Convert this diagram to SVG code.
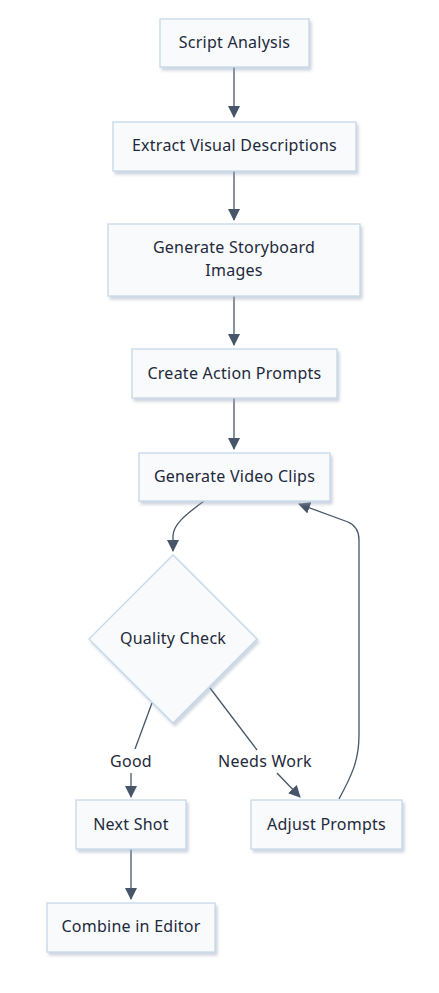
<svg xmlns="http://www.w3.org/2000/svg" width="439" height="993" viewBox="0 0 439 993">
<defs>
<filter id="sh" x="-10%" y="-10%" width="130%" height="140%">
<feDropShadow dx="2" dy="3" stdDeviation="1.5" flood-color="#94a3b8" flood-opacity="0.45"/>
</filter>
<marker id="ah" viewBox="0 0 12 12" refX="11" refY="6" markerWidth="12" markerHeight="12" markerUnits="userSpaceOnUse" orient="auto">
<path d="M0,0 L12,6 L0,12 z" fill="#475569"/>
</marker>
</defs>
<style>
.n{fill:#f8fafc;stroke:#c6d8ea;stroke-width:1.3;filter:url(#sh)}
.t{font-family:"Noto Sans","Open Sans",sans-serif;font-size:16px;letter-spacing:0.25px;fill:#1e293b;text-anchor:middle;dominant-baseline:central}
.e{fill:none;stroke:#475569;stroke-width:1.3}
.lb{font-family:"Noto Sans","Open Sans",sans-serif;font-size:16px;letter-spacing:0.25px;fill:#1e293b;text-anchor:middle;dominant-baseline:central}
</style>
<rect width="439" height="993" fill="#ffffff"/>
<g id="edges">
<path class="e" d="M234,67 L234,117" marker-end="url(#ah)"/>
<path class="e" d="M234,171 L234,220" marker-end="url(#ah)"/>
<path class="e" d="M234,296 L234,345" marker-end="url(#ah)"/>
<path class="e" d="M234,398 L234,449" marker-end="url(#ah)"/>
<path class="e" d="M204,501 C185,515 173,525 173,536 L173,551" marker-end="url(#ah)"/>
<path class="e" d="M152,703 L135,749"/>
<path class="e" d="M131,773 L131,797" marker-end="url(#ah)"/>
<path class="e" d="M210,688 L257,750"/>
<path class="e" d="M277,773 L300,797" marker-end="url(#ah)"/>
<path class="e" d="M131,849 L131,899" marker-end="url(#ah)"/>
<path class="e" d="M339,799 C352,775 359,760 359,735 L359,540 C359,530 355,525 348,522 L299,504" marker-end="url(#ah)"/>
<text class="lb" x="131" y="761">Good</text>
<text class="lb" x="265" y="761">Needs Work</text>
</g>
<g id="script-analysis">
<rect class="n" x="160" y="19" width="149" height="48"/>
<text class="t" x="234.5" y="42">Script Analysis</text>
</g>
<g id="extract-visual">
<rect class="n" x="113" y="122" width="243" height="49"/>
<text class="t" x="234.5" y="145">Extract Visual Descriptions</text>
</g>
<g id="generate-storyboard">
<rect class="n" x="108" y="224" width="252" height="72"/>
<text class="t" x="234" y="247">Generate Storyboard</text>
<text class="t" x="234" y="270">Images</text>
</g>
<g id="create-action">
<rect class="n" x="132" y="349" width="205" height="49"/>
<text class="t" x="234.5" y="373">Create Action Prompts</text>
</g>
<g id="generate-video">
<rect class="n" x="139" y="453" width="191" height="48"/>
<text class="t" x="234.5" y="476">Generate Video Clips</text>
</g>
<g id="quality-check">
<polygon class="n" points="173,555 257,639 173,723 89,639"/>
<text class="t" x="173" y="638">Quality Check</text>
</g>
<g id="next-shot">
<rect class="n" x="76" y="800" width="110" height="49"/>
<text class="t" x="131" y="824">Next Shot</text>
</g>
<g id="adjust-prompts">
<rect class="n" x="251" y="800" width="151" height="49"/>
<text class="t" x="326.5" y="824">Adjust Prompts</text>
</g>
<g id="combine-editor">
<rect class="n" x="47" y="903" width="168" height="49"/>
<text class="t" x="131" y="926">Combine in Editor</text>
</g>
</svg>
